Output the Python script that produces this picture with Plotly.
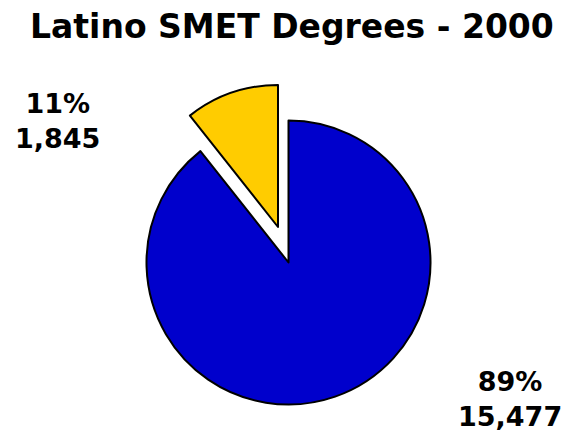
import plotly.graph_objects as go

# ---- data ----
categories = ["Other", "Latino"]
values = [15477, 1845]
colors = ["#0000CC", "#FFCC00"]
title_text = "Latino SMET Degrees - 2000"

W, H = 567, 433
FONT = "DejaVu Sans, Verdana, sans-serif"

total = sum(values)
pct = [round(v / total * 100) for v in values]
labels_txt = [f"<b>{p}%<br>{v:,}</b>" for p, v in zip(pct, values)]


def domain(cx, cy, r):
    # pixel centre/radius -> paper domain (margins are zero)
    return dict(x=[(cx - r) / W, (cx + r) / W],
                y=[(H - cy - r) / H, (H - cy + r) / H])


R = 142
blue_centre = (288.5, 262.5)
yellow_centre = (278, 227)  # exploded slice

transparent = "rgba(0,0,0,0)"

fig = go.Figure()
# main (blue) slice
fig.add_trace(go.Pie(
    labels=categories, values=values, sort=False,
    direction="clockwise", rotation=0,
    marker=dict(colors=[colors[0], transparent],
                line=dict(color=["black", transparent], width=[2, 0])),
    textinfo="none", hoverinfo="skip", showlegend=False,
    domain=domain(*blue_centre, R),
))
# exploded (yellow) slice
fig.add_trace(go.Pie(
    labels=categories, values=values, sort=False,
    direction="clockwise", rotation=0,
    marker=dict(colors=[transparent, colors[1]],
                line=dict(color=[transparent, "black"], width=[0, 2])),
    textinfo="none", hoverinfo="skip", showlegend=False,
    domain=domain(*yellow_centre, R),
))

# label positions (pixels): blue label bottom-right, yellow label top-left
label_pos = [(510, 399), (57, 121)]
annotations = [
    dict(text=f"<b>{title_text}</b>", x=292 / W, y=1 - 26 / H,
         xref="paper", yref="paper", showarrow=False,
         xanchor="center", yanchor="middle",
         font=dict(family=FONT, size=33, color="black")),
]
for (lx, ly), t in zip(label_pos, labels_txt):
    annotations.append(dict(text=t, x=lx / W, y=1 - ly / H,
                            xref="paper", yref="paper", showarrow=False,
                            xanchor="center", yanchor="middle", align="center",
                            font=dict(family=FONT, size=27, color="black")))

fig.update_layout(
    width=W, height=H,
    margin=dict(l=0, r=0, t=0, b=0),
    paper_bgcolor="white", plot_bgcolor="white",
    annotations=annotations,
)

fig.write_html("out.html",
               config={"displayModeBar": False},
               post_script="document.body.style.margin='0px';"
                           "document.body.style.overflow='hidden';")
